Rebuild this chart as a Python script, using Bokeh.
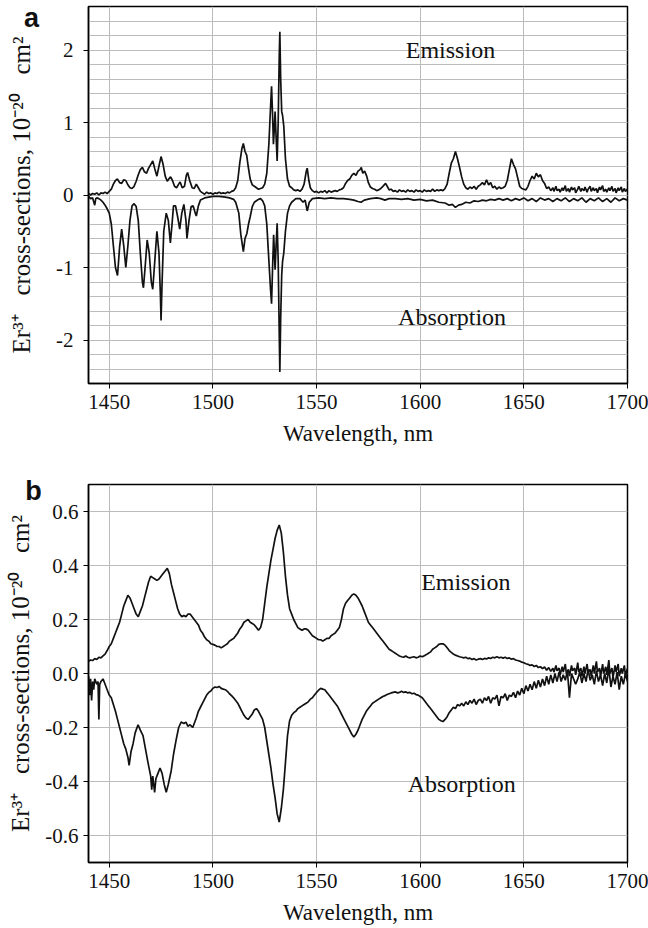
from bokeh.plotting import figure
from bokeh.layouts import column
from bokeh.models import Label, FixedTicker, SingleIntervalTicker, Range1d, NumeralTickFormatter
from bokeh.embed import file_html
from bokeh.resources import INLINE

# ---------------- data ----------------
X_TICKS = [1450, 1500, 1550, 1600, 1650, 1700]
Y_TICKS_B = [-0.6, -0.4, -0.2, 0.0, 0.2, 0.4, 0.6]

# panel a : emission (wavelength nm, cross-section 1e-20 cm2)
EM_A = [(1440,0.02),(1441,0.00),(1442,0.02),(1443,0.01),(1444,0.03),(1445,0.00),(1446,0.03),(1447,0.02),(1448,0.04),(1449,0.02),
(1450,0.05),(1451,0.08),(1452,0.15),(1453,0.20),(1454,0.22),(1455,0.17),(1456,0.16),(1457,0.21),(1458,0.20),(1459,0.14),
(1460,0.10),(1461,0.09),(1462,0.12),(1463,0.19),(1464,0.28),(1465,0.35),(1466,0.38),(1467,0.32),(1468,0.30),(1469,0.37),
(1470,0.42),(1471,0.47),(1472,0.36),(1473,0.26),(1474,0.40),(1475,0.53),(1476,0.42),(1477,0.26),(1478,0.19),(1479,0.23),
(1479.6,0.25),(1480.5,0.20),(1481.5,0.12),(1482.5,0.10),(1483.5,0.15),(1484.2,0.18),(1485.2,0.10),(1486.3,0.12),(1487.2,0.27),(1487.8,0.31),
(1488.8,0.20),(1490,0.10),(1491,0.09),(1492,0.15),(1493,0.10),(1494,0.05),(1495,0.03),(1496,0.01),(1497,0.04),(1498,0.02),
(1499,0.03),(1500,0.01),(1501,0.03),(1502,0.02),(1503,0.04),(1504,0.02),(1505,0.03),(1506,0.02),(1507,0.04),(1508,0.03),
(1509,0.05),(1510,0.06),(1511,0.10),(1512,0.20),(1513,0.45),(1514,0.64),(1514.7,0.71),(1515.5,0.60),(1516.3,0.55),(1517,0.40),
(1518,0.22),(1519,0.14),(1520,0.12),(1521,0.10),(1522,0.08),(1523,0.09),(1524,0.10),(1525,0.15),(1526,0.30),(1527,0.70),
(1527.8,1.20),(1528.3,1.50),(1528.8,1.10),(1529.2,0.70),(1529.6,0.90),(1530,1.15),(1530.5,0.80),(1531,0.47),(1531.5,1.00),(1532,1.90),
(1532.3,2.25),(1532.7,1.60),(1533.2,1.15),(1533.6,1.10),(1534.2,0.95),(1535,0.50),(1536,0.22),(1537,0.12),(1538,0.10),(1539,0.07),
(1540,0.06),(1541,0.07),(1542,0.05),(1543,0.08),(1544,0.15),(1545,0.32),(1545.5,0.37),(1546.3,0.20),(1547,0.10),(1548,0.06),
(1549,0.04),(1550,0.05),(1551,0.03),(1552,0.05),(1553,0.04),(1554,0.06),(1555,0.03),(1556,0.06),(1557,0.04),(1558,0.05),
(1559,0.06),(1560,0.05),(1561,0.07),(1562,0.08),(1563,0.10),(1564,0.16),(1565,0.20),(1566,0.22),(1567,0.27),(1568,0.30),
(1569,0.27),(1570,0.33),(1571,0.35),(1571.6,0.38),(1572.3,0.30),(1573.2,0.33),(1574.2,0.26),(1575,0.17),(1576,0.11),(1577,0.09),
(1578,0.08),(1579,0.06),(1580,0.07),(1581,0.09),(1582,0.12),(1583.3,0.16),(1584.3,0.11),(1585,0.07),(1586,0.08),(1587,0.05),
(1588,0.06),(1589,0.04),(1590,0.07),(1591,0.05),(1592,0.06),(1593,0.04),(1594,0.07),(1595,0.05),(1596,0.06),(1597,0.04),
(1598,0.07),(1599,0.05),(1600,0.06),(1601,0.04),(1602,0.07),(1603,0.05),(1604,0.06),(1605,0.05),(1606,0.08),(1607,0.05),
(1608,0.07),(1609,0.06),(1610,0.07),(1611,0.06),(1612,0.09),(1613,0.15),(1614,0.30),(1615,0.44),(1616,0.50),(1617,0.60),
(1618,0.50),(1619,0.38),(1620,0.25),(1621,0.15),(1622,0.10),(1623,0.08),(1624,0.11),(1625,0.09),(1626,0.12),(1627,0.08),
(1628,0.12),(1629,0.14),(1630,0.17),(1631,0.14),(1632,0.21),(1633,0.14),(1634,0.17),(1635,0.10),(1636,0.12),(1637,0.08),
(1638,0.11),(1639,0.09),(1640,0.10),(1641,0.12),(1642,0.20),(1643,0.35),(1644,0.50),(1645,0.42),(1646,0.36),(1647,0.24),
(1648,0.12),(1649,0.09),(1650,0.08),(1651,0.07),(1652,0.12),(1653,0.20),(1654,0.26),(1655,0.22),(1656,0.30),(1657,0.25),
(1658,0.28),(1659,0.20),(1660,0.16),(1661,0.09),(1662,0.11),(1663,0.06),(1664,0.10),(1664.5,0.05),(1665.5,0.12),(1666,0.06),
(1667,0.08),(1667.5,0.04),(1668.5,0.10),(1669,0.06),(1670,0.13),(1670.5,0.05),(1671.5,0.09),(1672,0.04),(1673,0.11),(1673.5,0.07),
(1674.5,0.10),(1675,0.03),(1676,0.08),(1676.5,0.12),(1677.5,0.05),(1678,0.09),(1679,0.06),(1679.5,0.11),(1680.5,0.04),(1681,0.08),
(1682,0.12),(1682.5,0.05),(1683.5,0.10),(1684,0.06),(1685,0.09),(1685.5,0.03),(1686.5,0.11),(1687,0.07),(1688,0.13),(1688.5,0.05),
(1689.5,0.08),(1690,0.04),(1691,0.10),(1691.5,0.06),(1692.5,0.12),(1693,0.05),(1694,0.09),(1694.5,0.03),(1695.5,0.10),(1696,0.06),
(1697,0.11),(1697.5,0.04),(1698.5,0.09),(1699,0.05),(1700,0.08)]

# panel a : absorption
AB_A = [(1440,-0.02),(1441,-0.05),(1442,-0.04),(1443,-0.14),(1443.5,-0.05),(1444,-0.04),(1445,-0.05),(1446,-0.07),(1447,-0.10),(1448,-0.14),
(1449,-0.19),(1450,-0.25),(1451,-0.40),(1452,-0.70),(1453,-1.00),(1454,-1.11),(1455,-0.72),(1456,-0.47),(1457,-0.70),(1458,-1.00),
(1459,-0.70),(1460,-0.35),(1461,-0.15),(1462,-0.12),(1463,-0.16),(1464,-0.35),(1465,-0.80),(1466,-1.20),(1466.5,-1.28),(1467.3,-1.00),
(1468.3,-0.62),(1469.3,-0.80),(1470.3,-1.20),(1471,-1.30),(1472,-0.90),(1473,-0.50),(1474,-0.80),(1474.7,-1.40),(1475,-1.73),(1475.5,-1.20),
(1476.3,-0.50),(1477.5,-0.25),(1478.5,-0.35),(1479.5,-0.66),(1480.3,-0.40),(1481,-0.15),(1482,-0.15),(1483,-0.30),(1484,-0.47),(1485,-0.25),
(1486,-0.13),(1487,-0.35),(1487.5,-0.60),(1488.5,-0.35),(1489.5,-0.16),(1490.5,-0.15),(1491.5,-0.25),(1492,-0.29),(1493,-0.15),(1494,-0.07),
(1496,-0.04),(1498,-0.03),(1500,-0.02),(1503,-0.02),(1506,-0.03),(1508,-0.04),(1510,-0.06),(1511,-0.10),(1512.5,-0.25),(1513.5,-0.55),
(1514.7,-0.78),(1515.5,-0.60),(1516.4,-0.53),(1517.2,-0.40),(1518,-0.30),(1519,-0.16),(1520,-0.10),(1521,-0.08),(1522,-0.06),(1523,-0.05),
(1524,-0.08),(1525,-0.15),(1526,-0.40),(1527,-0.90),(1527.8,-1.30),(1528.3,-1.50),(1528.8,-1.00),(1529.3,-0.55),(1529.7,-0.80),(1530,-1.03),
(1530.5,-0.70),(1531,-0.39),(1531.5,-0.90),(1532,-1.90),(1532.3,-2.44),(1532.7,-1.70),(1533.2,-1.10),(1533.6,-0.92),(1534.2,-0.80),(1535,-0.50),
(1536,-0.25),(1537,-0.15),(1538,-0.10),(1540,-0.05),(1542,-0.05),(1543.5,-0.10),(1544.5,-0.07),(1545.5,-0.22),(1546.5,-0.10),(1548,-0.05),
(1551,-0.04),(1554,-0.05),(1557,-0.04),(1560,-0.05),(1563,-0.05),(1566,-0.06),(1568,-0.07),(1570,-0.09),(1571.5,-0.10),(1573,-0.07),
(1576,-0.05),(1579,-0.04),(1581,-0.05),(1583,-0.07),(1585,-0.05),(1588,-0.05),(1591,-0.06),(1594,-0.05),(1597,-0.07),(1600,-0.06),
(1603,-0.08),(1606,-0.07),(1609,-0.10),(1612,-0.11),(1614,-0.14),(1615.5,-0.13),(1617,-0.17),(1618.5,-0.14),(1620,-0.13),(1622,-0.10),
(1624,-0.11),(1626,-0.08),(1628,-0.09),(1630,-0.07),(1632,-0.08),(1634,-0.06),(1636,-0.07),(1638,-0.05),(1640,-0.07),(1642,-0.05),
(1644,-0.08),(1646,-0.05),(1648,-0.07),(1650,-0.04),(1652,-0.08),(1654,-0.05),(1656,-0.09),(1658,-0.04),(1660,-0.07),(1662,-0.05),
(1664,-0.09),(1666,-0.05),(1668,-0.08),(1670,-0.04),(1672,-0.09),(1674,-0.05),(1676,-0.08),(1678,-0.04),(1680,-0.10),(1682,-0.05),
(1684,-0.08),(1686,-0.04),(1688,-0.09),(1690,-0.05),(1692,-0.10),(1694,-0.04),(1696,-0.08),(1698,-0.05),(1700,-0.07)]

# panel b : emission
EM_B = [(1440,0.045),(1441,0.05),(1442,0.048),(1443,0.055),(1444,0.052),(1445,0.06),(1446,0.058),(1447,0.065),(1448,0.072),(1449,0.085),
(1450,0.10),(1451,0.11),(1452,0.13),(1453,0.15),(1454,0.17),(1455,0.19),(1456,0.22),(1457,0.25),(1458,0.27),(1459,0.29),
(1460,0.28),(1461,0.26),(1462,0.24),(1463,0.22),(1464,0.21),(1465,0.23),(1466,0.25),(1467,0.28),(1468,0.31),(1469,0.34),
(1470,0.36),(1471,0.355),(1472,0.35),(1473,0.345),(1474,0.35),(1475,0.36),(1476,0.37),(1477,0.38),(1478,0.39),(1479,0.37),
(1480,0.33),(1481,0.30),(1482,0.27),(1483,0.24),(1484,0.22),(1485,0.21),(1486,0.215),(1487,0.21),(1488,0.22),(1489,0.22),
(1490,0.21),(1491,0.20),(1492,0.19),(1493,0.18),(1494,0.16),(1495,0.15),(1496,0.135),(1497,0.125),(1498,0.12),(1499,0.11),
(1500,0.108),(1501,0.105),(1502,0.10),(1503,0.10),(1504,0.095),(1505,0.10),(1506,0.105),(1507,0.11),(1508,0.12),(1509,0.125),
(1510,0.13),(1511,0.14),(1512,0.15),(1513,0.165),(1514,0.175),(1515,0.19),(1516,0.195),(1517,0.20),(1518,0.19),(1519,0.185),
(1520,0.18),(1521,0.17),(1522,0.16),(1523,0.17),(1524,0.20),(1525,0.26),(1526,0.32),(1527,0.37),(1528,0.42),(1529,0.46),
(1530,0.50),(1531,0.53),(1532,0.55),(1533,0.52),(1534,0.45),(1535,0.36),(1536,0.29),(1537,0.24),(1538,0.22),(1539,0.20),
(1540,0.185),(1541,0.17),(1542,0.165),(1543,0.16),(1544,0.165),(1545,0.165),(1546,0.16),(1547,0.15),(1548,0.14),(1549,0.135),
(1550,0.13),(1551,0.125),(1552,0.125),(1553,0.12),(1554,0.125),(1555,0.13),(1556,0.13),(1557,0.14),(1558,0.145),(1559,0.15),
(1560,0.16),(1561,0.17),(1562,0.20),(1563,0.24),(1564,0.26),(1565,0.27),(1566,0.28),(1567,0.29),(1568,0.295),(1569,0.29),
(1570,0.28),(1571,0.265),(1572,0.25),(1573,0.23),(1574,0.21),(1575,0.19),(1576,0.18),(1577,0.17),(1578,0.16),(1579,0.15),
(1580,0.14),(1581,0.13),(1582,0.12),(1583,0.11),(1584,0.10),(1585,0.09),(1586,0.085),(1587,0.08),(1588,0.075),(1589,0.07),
(1590,0.065),(1591,0.062),(1592,0.06),(1593,0.065),(1594,0.06),(1595,0.058),(1596,0.06),(1597,0.062),(1598,0.058),(1599,0.06),
(1600,0.065),(1601,0.062),(1602,0.066),(1603,0.07),(1604,0.075),(1605,0.08),(1606,0.09),(1607,0.095),(1608,0.10),(1609,0.108),
(1610,0.11),(1611,0.11),(1612,0.105),(1613,0.095),(1614,0.085),(1615,0.078),(1616,0.072),(1617,0.068),(1618,0.065),(1619,0.062),
(1620,0.06),(1621,0.058),(1622,0.06),(1623,0.055),(1624,0.057),(1625,0.052),(1626,0.055),(1627,0.05),(1628,0.053),(1629,0.055),
(1630,0.052),(1631,0.056),(1632,0.054),(1633,0.058),(1634,0.056),(1635,0.06),(1636,0.058),(1637,0.062),(1638,0.058),(1639,0.06),
(1640,0.057),(1641,0.06),(1642,0.056),(1643,0.058),(1644,0.053),(1645,0.055),(1646,0.05),(1647,0.048),(1648,0.046),(1649,0.042),
(1650,0.04),(1651,0.036),(1652,0.034),(1653,0.03),(1654,0.032),(1655,0.026),(1656,0.03),(1657,0.022),(1658,0.025),(1659,0.018),
(1660,0.024),(1661,0.012),(1662,0.022),(1663,0.008),(1664,0.02),(1664.5,0.005),(1665.5,0.03),(1666,0.01),(1667,0.02),(1667.5,-0.005),
(1668.5,0.025),(1669,0.005),(1670,0.035),(1670.5,0.0),(1671.5,0.015),(1672,-0.01),(1673,0.03),(1673.5,0.01),(1674.5,0.02),(1675,-0.005),
(1676,0.04),(1676.5,0.005),(1677.5,0.02),(1678,-0.01),(1679,0.025),(1679.5,0.0),(1680.5,0.035),(1681,0.005),(1682,0.015),(1682.5,-0.01),
(1683.5,0.03),(1684,0.0),(1685,0.045),(1685.5,0.005),(1686.5,0.02),(1687,-0.01),(1688,0.035),(1688.5,0.0),(1689.5,0.025),(1690,-0.005),
(1691,0.05),(1691.5,0.0),(1692.5,0.02),(1693,-0.015),(1694,0.03),(1694.5,0.005),(1695.5,0.035),(1696,-0.01),(1697,0.02),(1697.5,0.0),
(1698.5,0.03),(1699,-0.01),(1700,0.02)]

# panel b : absorption
AB_B = [(1440,-0.01),(1440.5,-0.08),(1441,-0.02),(1441.5,-0.10),(1442,-0.03),(1442.5,-0.06),(1443,-0.02),(1444,-0.04),(1444.6,-0.03),(1445,-0.17),
(1445.4,-0.04),(1446,-0.03),(1447,-0.02),(1448,-0.04),(1449,-0.06),(1450,-0.08),(1451,-0.09),(1452,-0.115),(1453,-0.14),(1454,-0.17),
(1455,-0.20),(1456,-0.23),(1457,-0.26),(1458,-0.28),(1459,-0.31),(1459.6,-0.34),(1460.5,-0.29),(1461.5,-0.26),(1462.5,-0.22),(1463.9,-0.19),
(1465,-0.21),(1466.3,-0.23),(1467.5,-0.28),(1468.7,-0.33),(1470,-0.38),(1470.5,-0.43),(1471,-0.38),(1471.9,-0.44),(1472.5,-0.39),(1473.5,-0.37),
(1474.5,-0.35),(1475.5,-0.37),(1476.5,-0.41),(1477.5,-0.44),(1478.5,-0.41),(1479.9,-0.36),(1481,-0.30),(1482.3,-0.245),(1483.5,-0.20),(1484.7,-0.18),
(1486,-0.185),(1487,-0.18),(1487.9,-0.195),(1489,-0.19),(1490.3,-0.20),(1491,-0.185),(1492,-0.165),(1493,-0.14),(1494,-0.125),(1495,-0.11),
(1496,-0.095),(1497,-0.08),(1498,-0.07),(1499,-0.065),(1500,-0.055),(1501,-0.05),(1502,-0.052),(1503,-0.048),(1504,-0.055),(1505,-0.058),
(1506,-0.06),(1507,-0.066),(1508,-0.075),(1509,-0.082),(1510,-0.09),(1511,-0.10),(1512,-0.11),(1513,-0.125),(1514,-0.14),(1515,-0.155),
(1516,-0.165),(1517,-0.17),(1518,-0.16),(1519,-0.15),(1520,-0.135),(1521,-0.13),(1522,-0.14),(1523,-0.155),(1524,-0.17),(1525,-0.20),
(1526,-0.25),(1527,-0.30),(1528,-0.35),(1529,-0.41),(1530,-0.46),(1531,-0.52),(1532,-0.55),(1533,-0.50),(1534,-0.43),(1535,-0.33),
(1536,-0.23),(1537,-0.175),(1538,-0.155),(1539,-0.145),(1540,-0.14),(1541,-0.13),(1542,-0.125),(1543,-0.12),(1544,-0.115),(1545,-0.11),
(1546,-0.105),(1547,-0.095),(1548,-0.09),(1549,-0.08),(1550,-0.07),(1551,-0.062),(1552,-0.055),(1553,-0.058),(1554,-0.06),(1555,-0.07),
(1556,-0.08),(1557,-0.09),(1558,-0.10),(1559,-0.11),(1560,-0.12),(1561,-0.135),(1562,-0.15),(1563,-0.165),(1564,-0.18),(1565,-0.195),
(1566,-0.21),(1567,-0.225),(1568,-0.235),(1569,-0.225),(1570,-0.21),(1571,-0.19),(1572,-0.17),(1573,-0.155),(1574,-0.14),(1575,-0.13),
(1576,-0.12),(1577,-0.11),(1578,-0.105),(1579,-0.10),(1580,-0.095),(1581,-0.09),(1582,-0.085),(1583,-0.082),(1584,-0.078),(1585,-0.075),
(1586,-0.072),(1587,-0.07),(1588,-0.068),(1589,-0.072),(1590,-0.07),(1591,-0.066),(1592,-0.07),(1593,-0.068),(1594,-0.072),(1595,-0.07),
(1596,-0.075),(1597,-0.073),(1598,-0.078),(1599,-0.08),(1600,-0.085),(1601,-0.09),(1602,-0.10),(1603,-0.11),(1604,-0.12),(1605,-0.13),
(1606,-0.14),(1607,-0.15),(1608,-0.16),(1609,-0.17),(1610,-0.175),(1611,-0.178),(1612,-0.17),(1613,-0.16),(1614,-0.145),(1615,-0.135),
(1616,-0.125),(1617,-0.13),(1618,-0.115),(1619,-0.12),(1620,-0.11),(1621,-0.12),(1622,-0.105),(1623,-0.115),(1624,-0.10),(1625,-0.11),
(1626,-0.095),(1627,-0.115),(1628,-0.10),(1629,-0.095),(1630,-0.11),(1631,-0.09),(1632,-0.10),(1633,-0.085),(1634,-0.11),(1635,-0.09),
(1636,-0.095),(1637,-0.08),(1638,-0.12),(1639,-0.085),(1640,-0.09),(1641,-0.075),(1642,-0.10),(1643,-0.08),(1644,-0.085),(1645,-0.07),
(1646,-0.09),(1647,-0.065),(1648,-0.08),(1649,-0.055),(1650,-0.075),(1651,-0.045),(1652,-0.065),(1653,-0.04),(1654,-0.06),(1655,-0.03),
(1656,-0.055),(1657,-0.025),(1658,-0.05),(1659,-0.02),(1660,-0.045),(1661,-0.01),(1662,-0.04),(1663,-0.005),(1664,-0.035),(1665,0.0),
(1666,-0.03),(1667,0.005),(1668,-0.03),(1669,-0.005),(1670,-0.025),(1671,0.01),(1672,-0.09),(1673,0.0),(1674,-0.02),(1675,-0.04),
(1676,-0.02),(1677,0.005),(1678,-0.035),(1679,0.0),(1680,-0.03),(1681,0.015),(1682,-0.025),(1683,-0.005),(1684,-0.04),(1685,0.01),
(1686,-0.03),(1687,-0.005),(1688,-0.045),(1689,0.0),(1690,-0.035),(1691,0.02),(1692,-0.05),(1693,-0.01),(1694,-0.04),(1695,0.005),
(1696,-0.06),(1697,-0.01),(1698,-0.04),(1699,0.0),(1700,-0.03)]

X_LABEL = "Wavelength, nm"
Y_LABEL = "Er\u00b3\u207a\u2002 cross-sections, 10\u207b\u00b2\u2070\u2002 cm\u00b2"

SERIF = "Liberation Serif"
INK = "#111111"
GRID = "#bcbcbc"


def style(p, tick_font, ytick_standoff, ylabel_standoff):
    p.outline_line_color = "black"
    p.outline_line_width = 1.5
    p.background_fill_color = "white"
    p.border_fill_color = "white"
    for ax in (p.xaxis[0], p.yaxis[0]):
        ax.axis_line_color = "black"
        ax.axis_line_width = 1.5
        ax.major_tick_line_color = "black"
        ax.major_tick_out = 5
        ax.major_tick_in = 0
        ax.minor_tick_line_color = None
        ax.major_label_text_font = SERIF
        ax.major_label_text_font_size = tick_font
        ax.major_label_text_color = INK
        ax.axis_label_text_font = SERIF
        ax.axis_label_text_font_size = "23px"
        ax.axis_label_text_font_style = "normal"
        ax.axis_label_text_color = INK
    p.yaxis[0].axis_label_text_font_size = "25px"
    p.xaxis[0].ticker = FixedTicker(ticks=X_TICKS)
    p.xaxis[0].major_label_standoff = 6
    p.xaxis[0].axis_label_standoff = 9
    p.xaxis[0].axis_label = X_LABEL
    p.yaxis[0].axis_label = Y_LABEL
    p.yaxis[0].major_label_standoff = ytick_standoff
    p.yaxis[0].axis_label_standoff = ylabel_standoff
    p.xgrid.grid_line_color = GRID
    p.ygrid.grid_line_color = GRID
    p.xgrid.grid_line_width = 1
    p.ygrid.grid_line_width = 1


def add_curve(p, pts):
    xs = [a for a, b in pts]
    ys = [b for a, b in pts]
    p.line(xs, ys, line_color=INK, line_width=1.7)


def add_text(p, x, y, text, size="24px"):
    p.add_layout(Label(x=x, y=y, text=text, text_font=SERIF, text_font_size=size,
                       text_color=INK, text_align="center", text_baseline="middle"))


def add_panel_letter(p, dx, dy, text):
    # placed in the (narrow) right side panel so it is not clipped by the frame;
    # screen offsets are measured from that panel's left / bottom edges
    p.add_layout(Label(x=dx, y=dy, x_units="screen", y_units="screen", text=text,
                       text_font="Liberation Sans", text_font_style="bold", text_font_size="27px",
                       text_color=INK, text_align="center", text_baseline="alphabetic"), "right")


# ---------------- panel a ----------------
pa = figure(width=648, height=455, x_range=Range1d(1440, 1700), y_range=Range1d(-2.6, 2.6),
            output_backend="svg", toolbar_location=None,
            min_border_left=88, min_border_right=21, min_border_top=6, min_border_bottom=72)
style(pa, "21px", 10, 18)
pa.yaxis[0].ticker = SingleIntervalTicker(interval=1, num_minor_ticks=5)
pa.yaxis[0].formatter = NumeralTickFormatter(format="0")
pa.ygrid.minor_grid_line_color = GRID
pa.ygrid.minor_grid_line_width = 1
add_curve(pa, EM_A)
add_curve(pa, AB_A)
add_text(pa, 1614.6, 2.0, "Emission")
add_text(pa, 1615.4, -1.68, "Absorption")
add_panel_letter(pa, 31 - 627, 366, "a")

# ---------------- panel b ----------------
pb = figure(width=648, height=473, x_range=Range1d(1440, 1700), y_range=Range1d(-0.7, 0.7),
            output_backend="svg", toolbar_location=None,
            min_border_left=87, min_border_right=21, min_border_top=29, min_border_bottom=66)
style(pb, "21px", 5, 8)
pb.yaxis[0].ticker = FixedTicker(ticks=Y_TICKS_B)
pb.yaxis[0].formatter = NumeralTickFormatter(format="0.0")
add_curve(pb, EM_B)
add_curve(pb, AB_B)
add_text(pb, 1622, 0.34, "Emission")
add_text(pb, 1620, -0.41, "Absorption")
add_panel_letter(pb, 33 - 627, 372, "b")

layout = column(pa, pb, spacing=0)
open("out.html", "w").write(file_html(layout, INLINE))
